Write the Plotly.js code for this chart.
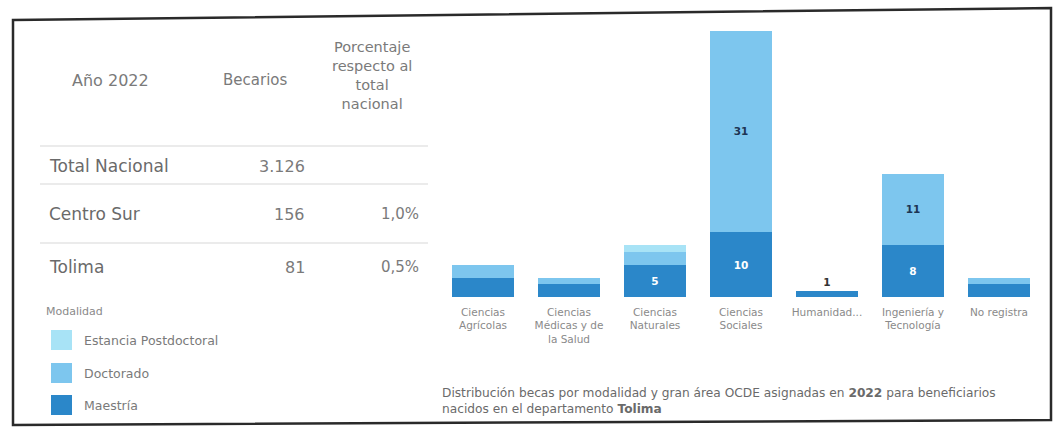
<!DOCTYPE html>
<html>
<head>
<meta charset="utf-8">
<script src="https://cdn.plot.ly/plotly-3.0.1.min.js"></script>
<style>
  html, body { margin: 0; padding: 0; background: #ffffff; }
  #chart { width: 1056px; height: 427px; }
</style>
</head>
<body>
<div id="chart"></div>
<script>
// ---- Data ----
const categories = ['Ciencias Agrícolas', 'Ciencias Médicas y de la Salud', 'Ciencias Naturales', 'Ciencias Sociales', 'Humanidades', 'Ingeniería y Tecnología', 'No registra'];
const tickLabels = ['Ciencias<br>Agrícolas', 'Ciencias<br>Médicas y de<br>la Salud', 'Ciencias<br>Naturales', 'Ciencias<br>Sociales', 'Humanidad...', 'Ingeniería y<br>Tecnología', 'No registra'];
const maestria  = [3, 2, 5, 10, 1, 8, 2];
const doctorado = [2, 1, 2, 31, null, 11, 1];
const estancia  = [null, null, 1, null, null, null, null];

const tableHeader = ['Año 2022', 'Becarios', 'Porcentaje<br>respecto al<br>total<br>nacional'];
const tableRows = ['Total Nacional', 'Centro Sur', 'Tolima'];
const becarios = ['3.126', '156', '81'];
const porcentaje = ['', '1,0%', '0,5%'];

const legendTitle = 'Modalidad';
const seriesNames = ['Estancia Postdoctoral', 'Doctorado', 'Maestría'];

// ---- Styling ----
const W = 1056, H = 427;
const FONT = 'DejaVu Sans, Open Sans, sans-serif';
const colors = {
  'Maestría': '#2b87c9',
  'Doctorado': '#7dc6ee',
  'Estancia Postdoctoral': '#a8e3f6'
};
const px = x => x / W;
const py = y => 1 - y / H;

function labelInfo(vals) {
  const text = [], pos = [];
  vals.forEach((v, i) => {
    const total = (maestria[i] || 0) + (doctorado[i] || 0) + (estancia[i] || 0);
    if (v == null) { text.push(''); pos.push('none'); }
    else if (v >= 5) { text.push(String(v)); pos.push('inside'); }
    else if (total < 2) { text.push(String(v)); pos.push('outside'); }
    else { text.push(''); pos.push('none'); }
  });
  return { text, pos };
}

function barTrace(name, vals, textColor) {
  const li = labelInfo(vals);
  return {
    type: 'bar', name: name, x: categories, y: vals,
    marker: { color: colors[name] },
    text: li.text, textposition: li.pos, texttemplate: '%{text}',
    insidetextanchor: 'middle',
    textfont: { family: FONT, size: 10.5, color: textColor, weight: 'bold' },
    outsidetextfont: { family: FONT, size: 10.5, color: '#333333', weight: 'bold' },
    cliponaxis: false,
    showlegend: false,
    hoverinfo: 'x+y+name'
  };
}

const traces = [
  barTrace('Maestría', maestria, '#ffffff'),
  barTrace('Doctorado', doctorado, '#1d3553'),
  barTrace('Estancia Postdoctoral', estancia, '#1d3553')
];

// ---- Annotations / shapes (table, legend, caption, frame) ----
const annotations = [];
const shapes = [];
const gray = '#7a7a7a';

// table header
annotations.push({ text: tableHeader[0], x: px(110), y: py(80), xref: 'paper', yref: 'paper', xanchor: 'center', yanchor: 'middle', showarrow: false, font: { family: FONT, size: 16, color: gray } });
annotations.push({ text: tableHeader[1], x: px(255), y: py(80), xref: 'paper', yref: 'paper', xanchor: 'center', yanchor: 'middle', showarrow: false, font: { family: FONT, size: 15, color: gray } });
annotations.push({ text: tableHeader[2], x: px(372), y: py(76), xref: 'paper', yref: 'paper', xanchor: 'center', yanchor: 'middle', showarrow: false, align: 'center', font: { family: FONT, size: 14.5, color: gray } });

// table rows
const rowY = [166, 214, 267];
tableRows.forEach((r, i) => {
  annotations.push({ text: r, x: px(47), y: py(rowY[i]), xref: 'paper', yref: 'paper', xanchor: 'left', yanchor: 'middle', showarrow: false, font: { family: FONT, size: 17, color: '#6a6a6a' } });
  annotations.push({ text: becarios[i], x: px(307), y: py(rowY[i]), xref: 'paper', yref: 'paper', xanchor: 'right', yanchor: 'middle', showarrow: false, font: { family: FONT, size: 16, color: gray } });
  if (porcentaje[i]) {
    annotations.push({ text: porcentaje[i], x: px(421), y: py(rowY[i]), xref: 'paper', yref: 'paper', xanchor: 'right', yanchor: 'middle', showarrow: false, font: { family: FONT, size: 15, color: gray } });
  }
});
// row separators
[146, 184, 243].forEach(y => {
  shapes.push({ type: 'line', xref: 'paper', yref: 'paper', x0: px(40), x1: px(428), y0: py(y), y1: py(y), line: { color: '#e4e4e4', width: 1.5 } });
});

// legend
annotations.push({ text: legendTitle, x: px(44), y: py(311), xref: 'paper', yref: 'paper', xanchor: 'left', yanchor: 'middle', showarrow: false, font: { family: FONT, size: 11, color: '#8a8a8a' } });
const legY = [340, 373, 405];
seriesNames.forEach((n, i) => {
  shapes.push({ type: 'rect', xref: 'paper', yref: 'paper', x0: px(51), x1: px(72), y0: py(legY[i] - 10), y1: py(legY[i] + 10), fillcolor: colors[n], line: { width: 0 } });
  annotations.push({ text: n, x: px(82), y: py(legY[i]), xref: 'paper', yref: 'paper', xanchor: 'left', yanchor: 'middle', showarrow: false, font: { family: FONT, size: 12.5, color: '#7a7a7a' } });
});

// caption
annotations.push({
  text: 'Distribución becas por modalidad y gran área OCDE asignadas en <b>2022</b> para beneficiarios<br>nacidos en el departamento <b>Tolima</b>',
  x: px(440), y: py(401), xref: 'paper', yref: 'paper', xanchor: 'left', yanchor: 'middle', align: 'left', showarrow: false,
  font: { family: FONT, size: 12.2, color: '#6a6a6a' }
});

// frame (scanned border)
shapes.push({
  type: 'path', xref: 'paper', yref: 'paper',
  path: `M ${px(13)},${py(20)} L ${px(1051)},${py(8)} L ${px(1051)},${py(420)} L ${px(13)},${py(425)} Z`,
  line: { color: '#2a2a2a', width: 2.5 }, fillcolor: 'rgba(0,0,0,0)'
});

const layout = {
  width: W, height: H,
  margin: { l: 0, r: 0, t: 0, b: 0 },
  paper_bgcolor: '#ffffff', plot_bgcolor: '#ffffff',
  barmode: 'stack', bargap: 0.27,
  showlegend: false,
  font: { family: FONT },
  xaxis: {
    domain: [px(440), px(1042)],
    type: 'category',
    tickmode: 'array', tickvals: categories, ticktext: tickLabels,
    tickfont: { family: FONT, size: 10.5, color: '#8a8a8a' },
    ticklabelstandoff: 7,
    showgrid: false, zeroline: false, showline: false, ticks: '',
    tickangle: 0
  },
  yaxis: {
    domain: [py(297), py(28)],
    range: [0, 41.4],
    visible: false, showgrid: false, zeroline: false
  },
  annotations: annotations,
  shapes: shapes
};

Plotly.newPlot('chart', traces, layout, { displayModeBar: false, staticPlot: true });
</script>
</body>
</html>
